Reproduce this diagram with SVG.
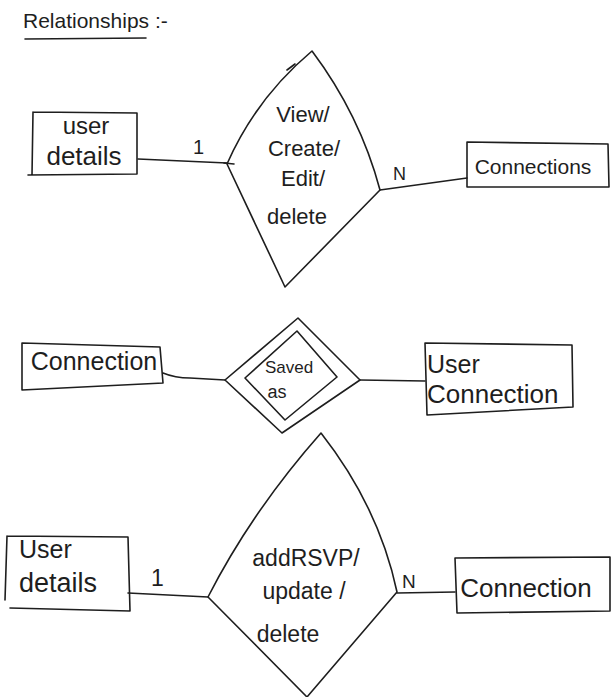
<svg xmlns="http://www.w3.org/2000/svg" width="611" height="697" viewBox="0 0 611 697">
<style>
.bg{fill:#ffffff}
.ln{fill:none;stroke:#1e1e1e;stroke-width:1.6;stroke-linejoin:round;stroke-linecap:round}
.t{font-family:"Liberation Sans",Arial,sans-serif;fill:#1e1e1e;font-size:22px}
.c{text-anchor:middle}
</style>
<rect class="bg" x="0" y="0" width="611" height="697"/>
<g id="title">
<text class="t" x="23" y="28" style="font-size:21px">Relationships :-</text>
<path class="ln" d="M25 39 L146 38"/>
</g>
<g id="connectors">
<path class="ln" d="M138 159 L227 163"/>
<path class="ln" d="M380 190 L467 178"/>
<path class="ln" d="M163 373 Q175 378 190 378 L225 380"/>
<path class="ln" d="M360 380 L425 381"/>
<path class="ln" d="M128 593 L208 597"/>
<path class="ln" d="M397 593 L455 592"/>
</g>
<g id="labels">
<text class="t" x="193" y="154" style="font-size:20px">1</text>
<text class="t" x="393" y="180" style="font-size:18px">N</text>
<text class="t" x="151" y="586" style="font-size:23px">1</text>
<text class="t" x="402" y="588" style="font-size:19px">N</text>
</g>
<g id="user-details-1">
<path class="ln" d="M33 112 L137 113 L137 174 L28 175 M33 112 L32 175"/>
<text class="t c" x="86" y="134" style="font-size:24px">user</text>
<text class="t c" x="84" y="165" style="font-size:26px">details</text>
</g>
<g id="rel-view-create-edit-delete">
<path class="ln" d="M312 51 Q360 115 380 190 L285 287 L227 164 Q256 98 312 51 Z"/>
<path class="ln" d="M287 70 L295 64 M224 163 L234 164"/>
<text class="t c" x="303" y="122">View/</text>
<text class="t c" x="304" y="156">Create/</text>
<text class="t c" x="303" y="186">Edit/</text>
<text class="t c" x="297" y="224">delete</text>
</g>
<g id="connections-1">
<path class="ln" d="M467 142 L608 144 L609 187 L467 187 Z"/>
<text class="t c" x="533" y="174" style="font-size:21px">Connections</text>
</g>
<g id="connection-2">
<path class="ln" d="M22 343 L160 347 L163 383 L22 390 Z"/>
<text class="t c" x="94" y="370" style="font-size:25px">Connection</text>
</g>
<g id="rel-saved-as">
<path class="ln" d="M298 318 L360 380 L282 433 L225 380 Z"/>
<path class="ln" d="M297 331 L337 377 L285 420 L245 378 Z"/>
<text class="t c" x="289" y="373" style="font-size:17px">Saved</text>
<text class="t c" x="277" y="398" style="font-size:18px">as</text>
</g>
<g id="user-connection-2">
<path class="ln" d="M425 343 L572 345 L573 407 L427 415 Z"/>
<text class="t" x="427" y="373" style="font-size:25px">User</text>
<text class="t" x="427" y="403" style="font-size:26px">Connection</text>
</g>
<g id="user-details-3">
<path class="ln" d="M7 536 L128 537 L130 611 L10 608 M7 536 L5 600"/>
<text class="t" x="19" y="558" style="font-size:25px">User</text>
<text class="t" x="19" y="592" style="font-size:27px">details</text>
</g>
<g id="rel-addrsvp-update-delete">
<path class="ln" d="M321 433 Q379 507 397 592 L307 697 L208 597 Q252 511 321 433 Z"/>
<text class="t c" x="306" y="566" style="font-size:23px">addRSVP/</text>
<text class="t c" x="304" y="599" style="font-size:23px">update /</text>
<text class="t c" x="288" y="642" style="font-size:23px">delete</text>
</g>
<g id="connection-3">
<path class="ln" d="M455 558 L610 557 L610 611 L457 613 Z"/>
<text class="t c" x="526" y="597" style="font-size:26px">Connection</text>
</g>
</svg>
